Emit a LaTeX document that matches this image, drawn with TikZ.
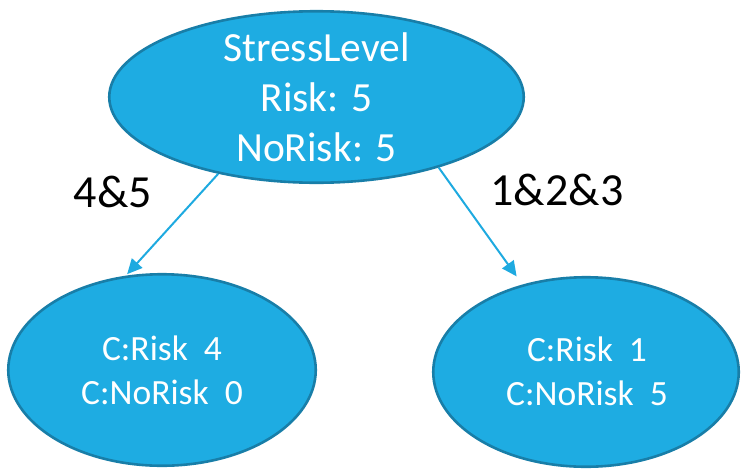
\documentclass[tikz,border=0pt]{standalone}
\usepackage{fontspec}
\setmainfont{Carlito}
\usetikzlibrary{arrows.meta,shapes.geometric}
\definecolor{blobfill}{RGB}{30,172,226}
\definecolor{blobedge}{RGB}{24,126,168}
\definecolor{linkblue}{RGB}{30,170,224}
\begin{document}
\begin{tikzpicture}[x=1pt,y=-1pt,
  blob/.style={ellipse,draw=blobedge,fill=blobfill,line width=2.6pt,inner sep=0pt},
  bigtxt/.style={text=white,align=center,inner sep=0pt,font=\fontsize{41.5}{50}\selectfont},
  smalltxt/.style={text=white,align=center,inner sep=0pt,font=\fontsize{35.5}{44}\selectfont},
  edgetxt/.style={text=black,inner sep=0pt,anchor=base,font=\fontsize{46}{50}\selectfont},
  link/.style={draw=linkblue,line width=2pt,-{Triangle[length=15pt,width=14pt]}}]
\useasboundingbox (0,0) rectangle (741,469);

% tree nodes
\node[blob,minimum width=414.5pt,minimum height=171.5pt] (root) at (316.5,97) {};
\node[bigtxt] (roottxt) at (root.center) {StressLevel\\Risk: 5\\NoRisk: 5};

\node[blob,minimum width=307.5pt,minimum height=191.5pt] (leftleaf) at (162,370) {};
\node[smalltxt] (lefttxt) at (162,370) {C:Risk~~4\\C:NoRisk~~0};

\node[blob,minimum width=305.5pt,minimum height=189.5pt] (rightleaf) at (586,372) {};
\node[smalltxt] (righttxt) at (587,371.5) {C:Risk~~1\\C:NoRisk~~5};

% branches
\draw[link,shorten >=2pt] (root.218) -- (leftleaf.111);
\draw[link,shorten >=10pt] (root.330.6) -- (rightleaf.126.5);

% branch labels
\node[edgetxt] (lbl45) at (113,207) {4\&5};
\node[edgetxt] (lbl123) at (557,205) {1\&2\&3};
\end{tikzpicture}
\end{document}
